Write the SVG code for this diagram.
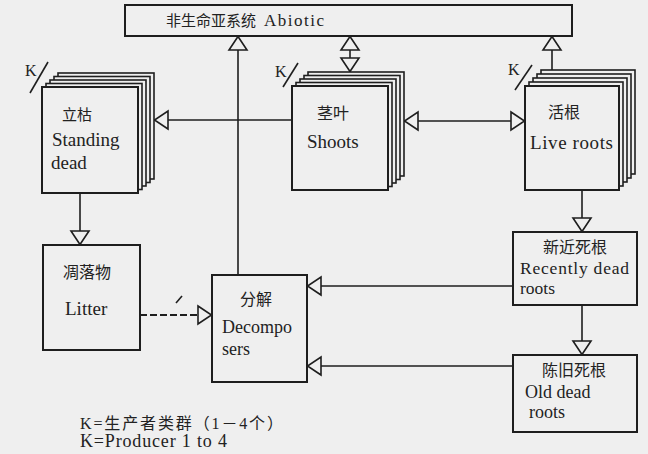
<svg xmlns="http://www.w3.org/2000/svg" width="648" height="454" viewBox="0 0 648 454">
<defs>
<marker id="ah" viewBox="0 -11 16 22" refX="15" refY="0" markerWidth="16" markerHeight="22" markerUnits="userSpaceOnUse" orient="auto-start-reverse">
<path d="M1,-9 L14.5,0 L1,9 Z" fill="#efefef" stroke="#1e1e1e" stroke-width="1.6" stroke-linejoin="miter"/>
</marker>
</defs>
<style>
.bg{fill:#efefef}
.box{fill:#efefef;stroke:#1e1e1e;stroke-width:2}
.lay{fill:#efefef;stroke:#1e1e1e;stroke-width:1.6}
.ln{fill:none;stroke:#1e1e1e;stroke-width:1.6}
.dash{stroke-dasharray:7 3;stroke-width:2}
.arr{marker-end:url(#ah)}
.t{font-family:"Liberation Serif","Times New Roman","DejaVu Serif","Noto Sans CJK SC",serif;fill:#222}
.en{font-size:19px}
.cn{font-size:16px}
.k{font-size:16px}
</style>
<rect class="bg" x="0" y="0" width="648" height="454"/>

<g id="abiotic">
<rect class="box" x="125" y="5" width="447" height="31"/>
<text class="t" x="166" y="26"><tspan font-size="15">非生命亚系统</tspan><tspan font-size="17" dx="8" letter-spacing="1.5">Abiotic</tspan></text>
</g>

<g id="connectors">
<path class="ln arr" d="M238,275 V36"/>
<path class="ln arr" d="M350,72 V36" style="marker-start:url(#ah)"/>
<path class="ln arr" d="M552,70 V36"/>
<path class="ln arr" d="M292,120 H154"/>
<path class="ln arr" d="M404,121 H525" style="marker-start:url(#ah)"/>
<path class="ln arr" d="M80,193 V245"/>
<path class="ln dash arr" d="M140,315 H212"/>
<path class="ln" d="M176,303 L182,296"/>
<path class="ln arr" d="M582,190 V232"/>
<path class="ln arr" d="M582,305 V355"/>
<path class="ln arr" d="M513,286 H307"/>
<path class="ln arr" d="M513,366 H307"/>
</g>

<g id="standing-dead">
<rect class="lay" x="58" y="73" width="96" height="106"/>
<rect class="lay" x="54" y="76.5" width="96" height="106"/>
<rect class="lay" x="50" y="80" width="96" height="106"/>
<rect class="lay" x="46" y="83.5" width="96" height="106"/>
<rect class="box" x="42" y="87" width="96" height="106"/>
<text class="t" x="62" y="120" font-size="15">立枯</text>
<text class="t en" x="52" y="146">Standing</text>
<text class="t en" x="51" y="169">dead</text>
<text class="t k" x="25" y="76">K</text>
<path class="ln" d="M30,93 L48,62"/>
</g>

<g id="shoots">
<rect class="lay" x="308" y="72" width="96" height="104"/>
<rect class="lay" x="304" y="75.5" width="96" height="104"/>
<rect class="lay" x="300" y="79" width="96" height="104"/>
<rect class="lay" x="296" y="82.5" width="96" height="104"/>
<rect class="box" x="292" y="86" width="96" height="104"/>
<text class="t cn" x="317" y="119">茎叶</text>
<text class="t en" x="307" y="148">Shoots</text>
<text class="t k" x="275" y="77">K</text>
<path class="ln" d="M283,87 L298,63"/>
</g>

<g id="live-roots">
<rect class="lay" x="541" y="70" width="94" height="104"/>
<rect class="lay" x="537" y="74" width="94" height="104"/>
<rect class="lay" x="533" y="78" width="94" height="104"/>
<rect class="lay" x="529" y="82" width="94" height="104"/>
<rect class="box" x="525" y="86" width="94" height="104"/>
<text class="t cn" x="548" y="118">活根</text>
<text class="t en" x="530" y="149" textLength="83">Live roots</text>
<text class="t k" x="508" y="75">K</text>
<path class="ln" d="M515,90 L532,65"/>
</g>

<g id="litter">
<rect class="box" x="43" y="245" width="97" height="105"/>
<text class="t cn" x="63" y="278">凋落物</text>
<text class="t en" x="65" y="315">Litter</text>
</g>

<g id="decomposers">
<rect class="box" x="212" y="275" width="95" height="107"/>
<text class="t cn" x="240" y="305">分解</text>
<text class="t" x="222" y="333" font-size="18">Decompo</text>
<text class="t" x="222" y="355" font-size="18">sers</text>
</g>

<g id="recently-dead-roots">
<rect class="box" x="513" y="232" width="124" height="73"/>
<text class="t" x="543" y="253" font-size="16">新近死根</text>
<text class="t" x="520" y="274" font-size="17.5" textLength="109">Recently dead</text>
<text class="t" x="520" y="294" font-size="17.5">roots</text>
</g>

<g id="old-dead-roots">
<rect class="box" x="513" y="355" width="124" height="77"/>
<text class="t" x="542" y="376" font-size="16">陈旧死根</text>
<text class="t" x="525" y="398" font-size="18">Old dead</text>
<text class="t" x="529" y="418" font-size="18">roots</text>
</g>

<g id="legend">
<text class="t" x="80" y="429" font-size="16" textLength="203">K=生产者类群（1－4个）</text>
<text class="t" x="80" y="447" font-size="18" textLength="147">K=Producer 1 to 4</text>
</g>
</svg>
